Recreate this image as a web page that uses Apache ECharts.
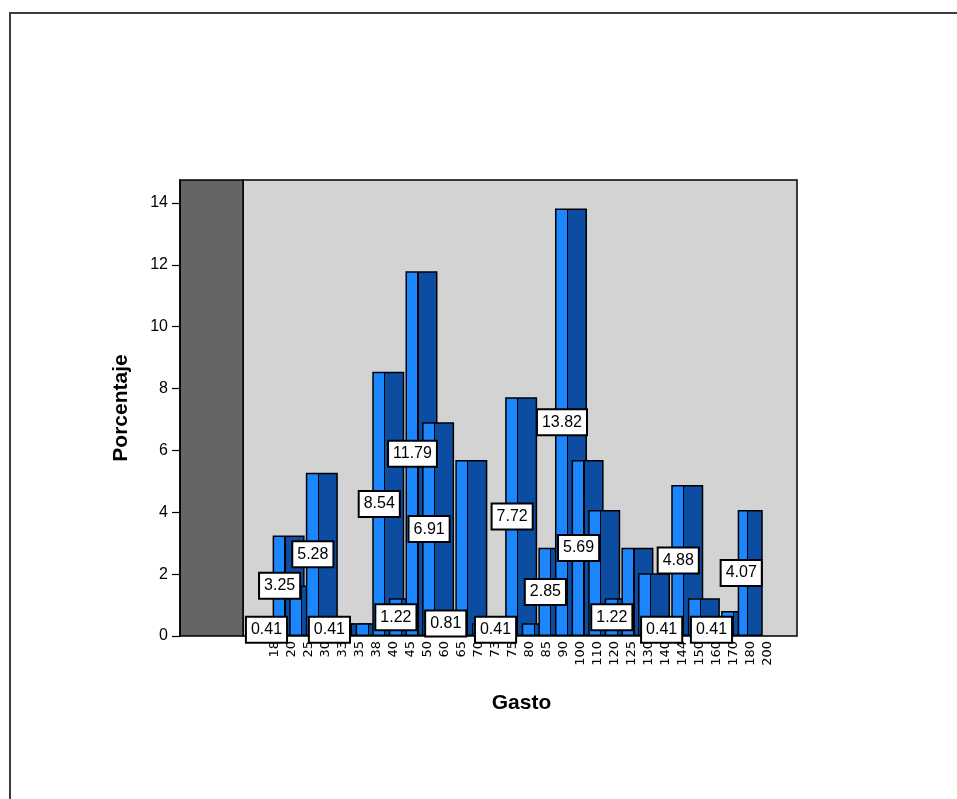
<!DOCTYPE html>
<html>
<head>
<meta charset="utf-8">
<script src="https://cdn.jsdelivr.net/npm/echarts@6/dist/echarts.min.js"></script>
<style>
html,body{margin:0;padding:0;background:#fff;}
#chart{width:957px;height:799px;}
</style>
</head>
<body>
<div id="chart"></div>
<script>
const categories = ['18','20','25','30','33','35','38','40','45','50','60','65','70','73','75','80','85','90','100','110','120','125','130','140','144','150','160','170','180','200'];
const percentages = [0.41,3.25,1.63,5.28,0.41,0.41,0.41,8.54,1.22,11.79,6.91,0.81,5.69,0.41,0.41,7.72,0.41,2.85,13.82,5.69,4.07,1.22,2.85,2.03,0.41,4.88,1.22,0.41,0.81,4.07];
const labeledCategories = ['18','20','30','33','40','45','50','60','65','75','80','90','100','110','125','144','150','170','200'];
const yTicks = [0,2,4,6,8,10,12,14];
const yMax = 14.74;

const chart = echarts.init(document.getElementById('chart'), null, {renderer:'canvas'});
const LIGHT = '#1C86FF', DARK = '#0C4DA2';
const barColor = new echarts.graphic.LinearGradient(0,0,1,0,[
  {offset:0, color:LIGHT},{offset:0.37, color:LIGHT},
  {offset:0.37, color:'#000'},{offset:0.41, color:'#000'},
  {offset:0.41, color:DARK},{offset:1, color:DARK}
]);
const font = 'Arial, "Liberation Sans", sans-serif';

chart.setOption({
  backgroundColor:'#fff',
  animation:false,
  graphic:[{type:'rect', z:-10, shape:{x:10,y:13,width:1200,height:1200}, style:{fill:'none', stroke:'#3c3c3c', lineWidth:2}}],
  grid:[
    {left:243, top:180, width:554, height:456, show:true, backgroundColor:'#D3D3D3', borderColor:'#000', borderWidth:1.5},
    {left:180, top:180, width:63, height:456, show:true, backgroundColor:'#656565', borderColor:'#000', borderWidth:1.5},
    {left:263.7, top:180, width:498.3, height:456},
    {left:266.5, top:180, width:510, height:456}
  ],
  xAxis:[
    {gridIndex:0, type:'value', show:false},
    {gridIndex:1, type:'value', show:false},
    {gridIndex:2, type:'category', data:categories, show:false},
    {gridIndex:3, type:'category', data:categories,
      axisLine:{show:false}, axisTick:{show:false},
      axisLabel:{rotate:90, interval:0, margin:5, color:'#000', fontSize:13, fontFamily:'"DejaVu Sans", Arial, sans-serif'},
      name:'Gasto', nameLocation:'middle', nameGap:57,
      nameTextStyle:{fontSize:21, fontWeight:'bold', color:'#000', fontFamily:font}}
  ],
  yAxis:[
    {gridIndex:0, type:'value', show:false, min:0, max:yMax},
    {gridIndex:1, type:'value', min:0, max:yMax,
      axisLine:{show:true, lineStyle:{color:'#000', width:1.5}},
      axisTick:{show:true, inside:false, length:8, lineStyle:{color:'#000', width:1.2}, customValues:yTicks},
      axisLabel:{color:'#000', fontSize:16, fontFamily:font, margin:12, customValues:yTicks},
      splitLine:{show:false},
      name:'Porcentaje', nameLocation:'middle', nameGap:48,
      nameTextStyle:{fontSize:21, fontWeight:'bold', color:'#000', fontFamily:font}},
    {gridIndex:2, type:'value', show:false, min:0, max:yMax},
    {gridIndex:3, type:'value', show:false, min:0, max:yMax}
  ],
  series:[{
    type:'bar', xAxisIndex:2, yAxisIndex:2,
    barWidth:32,
    itemStyle:{color:barColor, borderColor:'#000', borderWidth:1.5},
    label:{position:'inside', offset:[-9,0], color:'#000', fontSize:16, fontFamily:font,
      backgroundColor:'#fff', borderColor:'#000', borderWidth:2, padding:[4,4],
      formatter:p => p.value.toFixed(2)},
    data: percentages.map((v,i)=>({value:v, label:{show: labeledCategories.includes(categories[i])}}))
  }]
});
</script>
</body>
</html>
